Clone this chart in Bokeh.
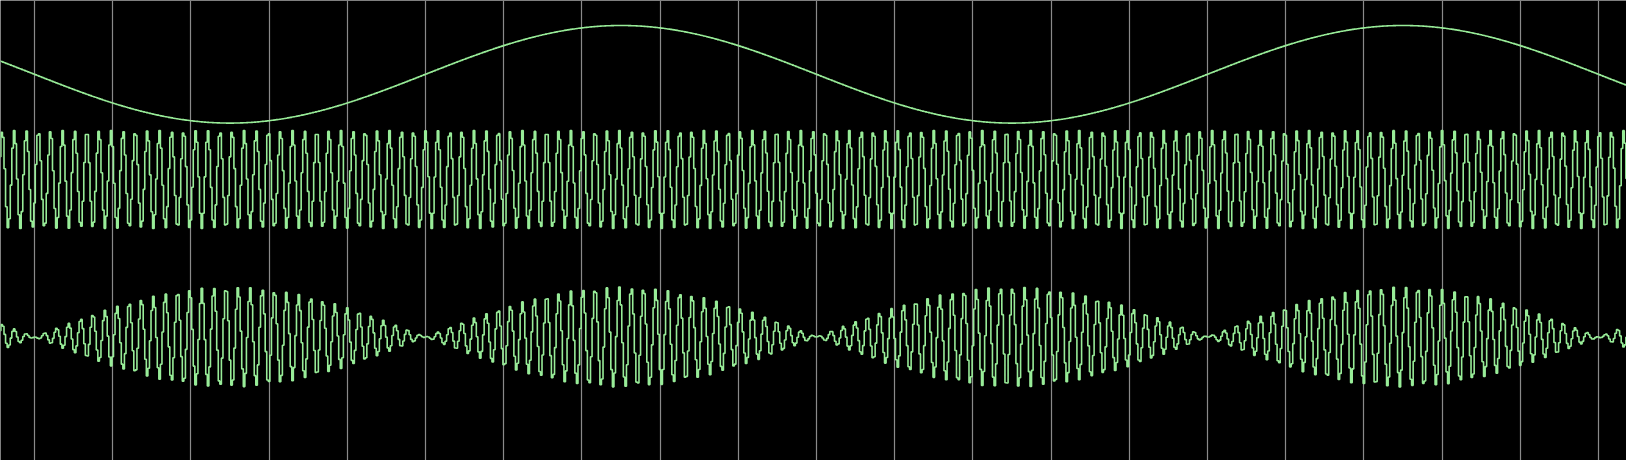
import numpy as np
from bokeh.plotting import figure
from bokeh.models import Range1d, FixedTicker, Grid
from bokeh.embed import file_html
from bokeh.resources import INLINE

# ---- data ----
# sample indices shown in the window
sample_index = list(range(-22, 1020))
# slow sine: period in samples, descending zero crossing at sample 0
slow_period = [500.0]
# carrier: cycles per sample and the sample where it peaks
carrier_freq = [0.12925]
carrier_peak = [-20.66]
# grid every 50 samples
grid_ticks = list(range(0, 1001, 50))

n = np.array(sample_index, dtype=float)
slow_wave = list(-np.sin(2 * np.pi * n / slow_period[0]))
carrier_wave = list(np.cos(2 * np.pi * carrier_freq[0] * (n - carrier_peak[0])))
modulated_wave = [a * b for a, b in zip(slow_wave, carrier_wave)]

# ---- layout (pixel lanes) ----
W, H = 1626, 460
px_per_sample = 1.564
x0_px = 34.0
lanes = [(73.8, 48.8), (179.0, 49.0), (336.5, 50.0)]  # (centre, amplitude) in px from top

p = figure(width=W, height=H, output_backend="svg", toolbar_location=None,
           x_axis_type=None, y_axis_type=None,
           x_range=Range1d(-x0_px / px_per_sample, (W - x0_px) / px_per_sample),
           y_range=Range1d(-H, 0), min_border=0)
p.background_fill_color = "black"
p.border_fill_color = "black"
p.outline_line_color = None

grid = Grid(dimension=0, ticker=FixedTicker(ticks=grid_ticks),
            grid_line_color="#8a8a8a", grid_line_width=1.2)
p.add_layout(grid)

color = "#98ec98"
for (c, a), wave in zip(lanes, [slow_wave, carrier_wave, modulated_wave]):
    ys = [-(c - a * v) for v in wave]
    p.step(sample_index, ys, mode="center", line_color=color, line_width=1.6)

open("out.html", "w").write(file_html(p, INLINE))
